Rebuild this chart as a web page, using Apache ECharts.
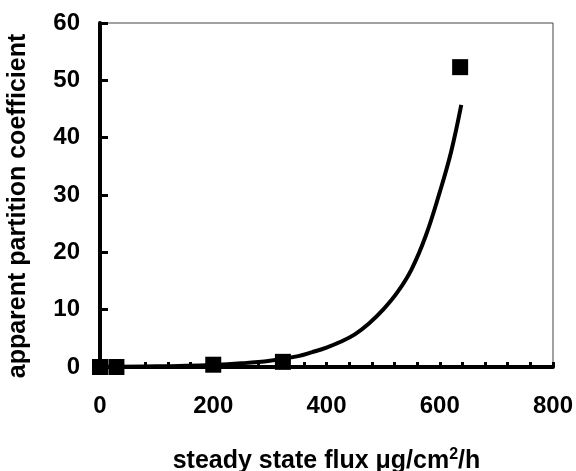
<!DOCTYPE html>
<html><head><meta charset="utf-8">
<script src="https://cdn.jsdelivr.net/npm/echarts@6/dist/echarts.min.js"></script>
<style>html,body{margin:0;padding:0;background:#fff}#c{width:576px;height:471px}</style>
</head><body><div id="c"></div>
<script>
// measured data points (flux, apparent partition coefficient)
const pointX = [0, 29, 200, 323, 636];
const pointY = [0, 0, 0.4, 0.9, 52.3];
// fitted curve
const curveX = [0, 100, 200, 250, 300, 350, 375, 400, 425, 450, 475, 500, 525, 550, 575, 600, 620, 638];
const curveY = [0.04, 0.12, 0.37, 0.64, 1.1, 1.9, 2.6, 3.4, 4.4, 5.7, 7.6, 10.0, 13.0, 17.0, 22.8, 30.5, 37.5, 45.7];
const xTicks = [0, 200, 400, 600, 800];
const yTicks = [0, 10, 20, 30, 40, 50, 60];

const F = "'Liberation Sans', Arial, sans-serif";
const chart = echarts.init(document.getElementById('c'), null, {renderer: 'canvas'});
chart.setOption({
  animation: false,
  backgroundColor: '#fff',
  grid: {left: 100, right: 23, top: 23, bottom: 104, containLabel: false, outerBoundsMode: 'none',
    show: true, borderColor: '#444', borderWidth: 1},
  xAxis: {
    type: 'value', min: 0, max: 800, interval: 40,
    axisLine: {lineStyle: {color: '#000', width: 4}},
    axisTick: {inside: true, length: 5, lineStyle: {color: '#000', width: 3}},
    splitLine: {show: false},
    axisLabel: {
      margin: 27, fontFamily: F, fontWeight: 'bold', fontSize: 24, color: '#000',
      formatter: v => xTicks.includes(v) ? String(v) : ''
    },
    name: '{a|steady state flux μg/cm}{s|2}{a|/h}',
    nameLocation: 'middle', nameGap: 80,
    nameTextStyle: {
      rich: {
        a: {fontFamily: F, fontWeight: 'bold', fontSize: 25, color: '#000'},
        s: {fontFamily: F, fontWeight: 'bold', fontSize: 16, color: '#000', verticalAlign: 'top', padding: [0,0,12,0]}
      }
    }
  },
  yAxis: {
    type: 'value', min: 0, max: 60, interval: 10,
    axisLine: {lineStyle: {color: '#000', width: 4}},
    axisTick: {inside: true, length: 8, lineStyle: {color: '#000', width: 3}},
    splitLine: {show: false},
    axisLabel: {margin: 20, fontFamily: F, fontWeight: 'bold', fontSize: 24, color: '#000',
      formatter: v => yTicks.includes(v) ? String(v) : ''},
    name: 'apparent partition coefficient',
    nameLocation: 'middle', nameGap: 69,
    nameTextStyle: {fontFamily: F, fontWeight: 'bold', fontSize: 25, color: '#000', padding: [0, 22, 0, 0]}
  },
  series: [
    {
      type: 'line', data: curveX.map((x, i) => [x, curveY[i]]),
      smooth: 0.4, showSymbol: false, symbol: 'none',
      lineStyle: {color: '#000', width: 4}, z: 2
    },
    {
      type: 'scatter', data: pointX.map((x, i) => [x, pointY[i]]),
      symbol: 'rect', symbolSize: 16, itemStyle: {color: '#000', opacity: 1}, z: 3
    }
  ]
});
</script></body></html>
